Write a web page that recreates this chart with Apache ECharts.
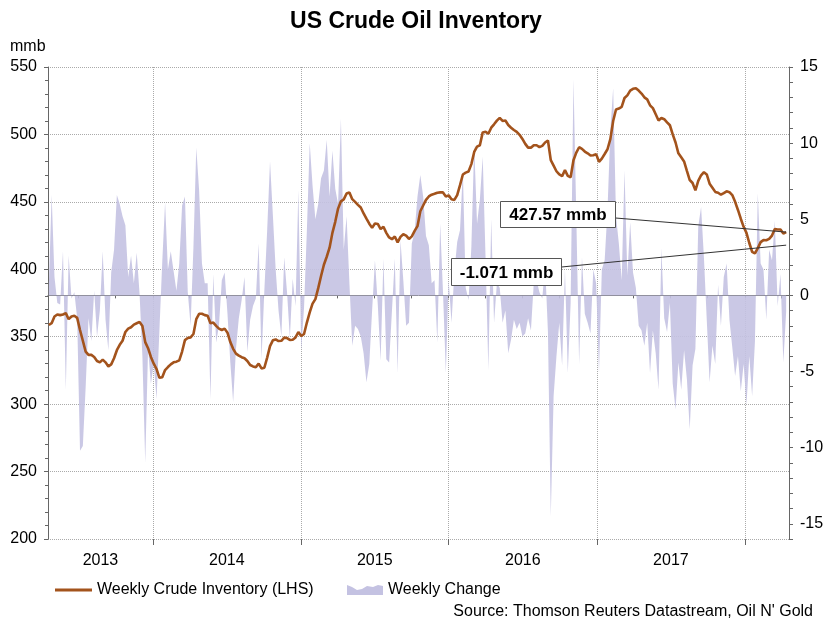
<!DOCTYPE html>
<html>
<head>
<meta charset="utf-8">
<title>US Crude Oil Inventory</title>
<script src="https://cdn.jsdelivr.net/npm/echarts@6/dist/echarts.min.js"></script>
<style>
html,body{margin:0;padding:0;background:#fff;}
#chart{width:832px;height:624px;}
</style>
</head>
<body>
<div id="chart"></div>
<script>
// weekly series, first week ending 2013-04-19, last 2018-04-13
var firstWeek = Date.UTC(2013, 3, 19);
var DAY = 864e5;

// crude inventory, mmb (LHS)
var inventory = [
  358.7, 360, 365, 366.5, 366, 366.5, 367.5, 363, 365, 365.5,
  364, 355, 347, 339, 336.5, 336.5, 335, 332, 331, 333,
  331, 328, 329.5, 334, 340, 344, 347, 353.5, 356, 357,
  359, 360, 361, 358, 346, 341.5, 335, 330, 326, 319.5,
  320, 325.3, 327.5, 329.5, 331, 331.5, 332.5, 339, 347.5, 349,
  349.5, 352, 363, 367, 367, 366, 365.5, 360, 360.5, 358,
  356, 355, 356, 353, 346, 341, 337.5,
  336, 334.8, 334, 332, 329, 328, 327.4, 330, 326.5, 327,
  334.5, 343, 347.3, 348, 346.8, 347, 349.3, 349, 347.6, 347.8,
  349.5, 353.5, 350.5, 352, 360.5, 368, 374.5, 377.9, 386, 395,
  403.4, 409.3, 416, 427, 435.2, 445, 450.4, 451.8, 456.2, 457,
  452, 450, 447.8, 445.8, 441.4, 437.5, 433.8, 430.7, 434, 433.6,
  429.8, 431.5, 427, 423.6, 422.3, 424.3, 420, 424, 426, 425,
  422.5, 424.4, 428.5, 432, 443, 447.3, 451.5, 454,
  455.3, 456, 456.8, 457, 457, 454, 454.8, 452, 451.4, 455,
  462.4, 470.3, 471.7, 472.5, 478, 487, 491, 492, 501.5, 502,
  500.5, 505, 507.5, 510.2, 512.3, 510, 510.3, 507, 505, 503.3,
  501.9, 499.7, 496.7, 493, 490.2, 490.2, 492, 492, 490.6, 491.5,
  494, 495.5, 480.9, 476.8, 472.7, 470.3, 469.1, 473.5, 469.3, 468.2,
  480.9, 486.5, 490.5, 489.3, 487.3, 486, 484.4, 484.6, 485.4, 479.7,
  482.1, 485.5, 489, 496.5, 510, 518.5, 519.2,
  520.4, 527, 529, 532.5, 533.8, 534.3, 532.5, 530.3, 527.5, 526,
  521.6, 519.5, 515, 510.3, 512.2, 511.3, 509, 506.8, 500, 494,
  486, 483, 480, 473, 466.2, 464, 458.5, 465.5, 469.7, 472,
  470.3, 463.5, 460.5, 457.4, 456.8, 455.3, 456.5, 457.8, 457.2, 455,
  450, 444, 437.5, 431.5, 427, 419.5, 413, 411.8, 415.7, 420.1,
  421.6, 421.5, 422.5, 425, 429.8, 429.5, 429.5, 426.5, 427.57
];

// weekly change, mmb (RHS)
var weeklyChange = [
  0.6, 6.6, 1.2, -0.5, -0.6, 2.9, -6.2, 2.6, -0.2, 0.2,
  -1.5, -10.2, -9.9, -6.0, -1.5, -3.0, 0.3, -2.7, -1.0, 2.9,
  -1.6, -3.6, 1.5, 3.0, 6.6, 6.0, 5.2, 4.6, 1.2, 2.6,
  0.8, 2.8, 0.1, -4.0, -11.0, -3.5, -5.8, -4.5, -6.8, -2.3,
  2.2, 6.1, 1.7, 2.9, 1.6, 0.3, 2.1, 5.9, 6.5, 0.2,
  -2.0, 3.2, 9.7, 6.9, 2.1, 0.8, 0.8, -6.8, 1.4, -3.1,
  -2.0, 1.0, 1.5, -1.2, -4.4, -7.0, -3.5,
  -1.5, -0.3, 1.2, -3.7, -1.6, -0.7, -0.2, 3.4, -4.2, 0.3,
  4.3, 8.8, 5.3, 1.7, -1.0, -2.7, 2.5, 0.2, -2.8, 1.1,
  -0.7, 6.9, -3.6, -0.8, 4.3, 10.0, 7.2, 5.0, 6.0, 7.7,
  8.2, 10.2, 6.5, 9.5, 7.0, 6.0, 11.6, 3.0, 5.2, 0.8,
  -3.3, -2.0, -2.2, -2.7, -3.8, -5.7, -4.5, -1.0, 2.3, -0.6,
  -4.3, 2.4, -4.2, -4.4, -1.0, 2.4, -5.1, 3.6, 1.0, -2.0,
  -1.8, 3.4, 4.2, 6.5, 7.9, 6.5, 3.9, 3.3,
  0.8, 1.0, -3.1, 4.7, 0.2, -5.1, 1.0, -1.8, 1.5, 3.5,
  4.3, 8.2, 0.5, -0.3, 3.2, 9.9, 4.7, 6.3, 9.1, 2.5,
  -4.9, 5.0, -1.8, 0.8, 0.5, -1.8, -1.0, -3.8, -2.9, -1.6,
  -2.2, -1.8, -2.7, -2.5, -1.5, -2.3, 0.8, 1.0, 0.2, -0.2,
  2.0, -2.4, -14.5, -6.6, -4.0, -1.8, -4.6, 1.7, -5.1, -0.5,
  14.2, 5.2, -4.5, 2.5, -1.2, -1.8, -2.5, 1.7, 0.8, -5.1,
  1.7, 2.3, 5.6, 10.8, 13.6, 5.2, 3.4,
  1.0, 8.2, 1.3, 4.8, 1.5, 0.5, -2.0, -2.3, -3.3, -1.8,
  -5.1, -2.3, -3.8, -6.2, 3.1, -1.5, -2.4, -0.5, -5.8, -7.5,
  -4.4, -6.2, -3.6, -5.5, -8.8, -4.6, -3.5, 4.5, 5.8, 2.5,
  -1.6, -5.7, -3.3, -4.5, 0.7, -2.0, 1.2, 2.1, -1.6, -3.4,
  -5.3, -4.0, -6.3, -4.5, -7.2, -4.0, -6.6, -3.0, 6.7, 2.1,
  1.7, -1.6, 3.0, 2.3, 4.9, -0.7, 1.4, -4.4, -1.071
];

var yearLabels = [2013, 2014, 2015, 2016, 2017];
var leftTicks = [200, 550, 50];     // min, max, step
var rightTicks = [-16, 15, 5];      // min, max, label step
var changeLeaderTarget = 3.3;       // where the -1.071 pointer lands on the RHS

var FONT = 'Arial, "Liberation Sans", sans-serif';
var INV_COLOR = '#a3531c';
var CHG_COLOR = '#c4c2e2';

function wk(i){ return firstWeek + i * 7 * DAY; }

var axisStart = Date.UTC(2013, 3, 17);
var axisEnd = Date.UTC(2018, 3, 20);

var quarterTicks = [];
for (var y = 2013; y <= 2018; y++) {
  for (var q = 0; q < 4; q++) {
    var t = Date.UTC(y, q * 3, 1);
    if (t > axisStart && t < axisEnd) quarterTicks.push(t);
  }
}
var yearTicks = [];
for (var y2 = 2014; y2 <= 2018; y2++) yearTicks.push(Date.UTC(y2, 0, 1));

var labelPos = yearLabels.map(function (yr) {
  var a = Math.max(Date.UTC(yr, 0, 1), axisStart);
  var b = Math.min(Date.UTC(yr + 1, 0, 1), axisEnd);
  return (a + b) / 2;
});

var invData = inventory.map(function (v, i) { return [wk(i), v]; });
var chgData = weeklyChange.map(function (v, i) { return [wk(i), v]; });

var myChart = echarts.init(document.getElementById('chart'));

var option = {
  animation: false,
  backgroundColor: '#fff',
  textStyle: { fontFamily: FONT },
  title: {
    text: 'US Crude Oil Inventory',
    left: 'center',
    top: 5,
    textStyle: { fontSize: 23, fontWeight: 'bold', color: '#000', fontFamily: FONT }
  },
  grid: { left: 48, right: 43, top: 67, bottom: 85 },
  legend: [
    {
      data: [{ name: 'Weekly Crude Inventory (LHS)', icon: 'rect' }],
      left: 55, top: 582, padding: 0,
      itemWidth: 37, itemHeight: 3,
      textStyle: { fontSize: 16, color: '#000', fontFamily: FONT },
      selectedMode: false
    },
    {
      data: [{ name: 'Weekly Change', icon: 'path://M0,12 L0,2 L5,4 L10,7 L15,6 L20,3 L26,4 L31,2 L36,3 L36,12 Z' }],
      left: 347, top: 582, padding: 0,
      itemWidth: 36, itemHeight: 12,
      textStyle: { fontSize: 16, color: '#000', fontFamily: FONT },
      selectedMode: false
    }
  ],
  xAxis: [
    {
      type: 'value', min: axisStart, max: axisEnd, position: 'bottom',
      axisLine: { lineStyle: { color: '#666', width: 1 } },
      axisTick: { customValues: quarterTicks, length: 3, lineStyle: { color: '#666' } },
      axisLabel: {
        customValues: labelPos,
        formatter: function (v) { return String(new Date(v).getUTCFullYear()); },
        fontSize: 16, color: '#000', margin: 14, fontFamily: FONT
      },
      splitLine: { show: false }
    },
    {
      type: 'value', min: axisStart, max: axisEnd, position: 'bottom',
      axisLine: { show: false },
      axisTick: { customValues: yearTicks, length: 6, lineStyle: { color: '#666' } },
      axisLabel: { show: false },
      splitLine: { show: true, lineStyle: { type: 'dotted', color: '#aaa' } }
    }
  ],
  yAxis: [
    {
      type: 'value', position: 'left',
      min: leftTicks[0], max: leftTicks[1], interval: leftTicks[2],
      axisLine: { show: true, lineStyle: { color: '#666' } },
      axisTick: { show: true, length: 4, lineStyle: { color: '#666' } },
      minorTick: { show: true, splitNumber: 5, length: 3, lineStyle: { color: '#666' } },
      axisLabel: { fontSize: 16, color: '#000', margin: 11, fontFamily: FONT },
      splitLine: { show: true, lineStyle: { type: 'dotted', color: '#aaa' } }
    },
    {
      type: 'value', position: 'right',
      min: rightTicks[0], max: rightTicks[1], interval: 1,
      axisLine: { show: true, lineStyle: { color: '#666' } },
      axisTick: { show: true, length: 4, lineStyle: { color: '#666' } },
      axisLabel: {
        formatter: function (v) { return v % rightTicks[2] === 0 ? String(v) : ''; },
        fontSize: 16, color: '#000', margin: 11, fontFamily: FONT
      },
      splitLine: { show: false }
    }
  ],
  series: [
    {
      name: 'Weekly Change',
      type: 'line',
      xAxisIndex: 0, yAxisIndex: 1,
      data: chgData,
      symbol: 'none',
      lineStyle: { width: 0 },
      itemStyle: { color: CHG_COLOR },
      areaStyle: { color: CHG_COLOR, opacity: 0.9 },
      z: 1
    },
    {
      name: 'Weekly Crude Inventory (LHS)',
      type: 'line',
      xAxisIndex: 0, yAxisIndex: 0,
      data: invData,
      symbol: 'none',
      lineStyle: { width: 2.6, color: INV_COLOR },
      itemStyle: { color: INV_COLOR },
      z: 3
    }
  ]
};
myChart.setOption(option, true);

// call-out boxes, pointers land on the data through the chart's own scales
var last = inventory.length - 1;
var pInv = myChart.convertToPixel({ seriesIndex: 1 }, [wk(last), inventory[last]]);
var pChg = myChart.convertToPixel({ seriesIndex: 0 }, [wk(last), changeLeaderTarget]);

function callout(x, y, w, h, text, ax, ay, target) {
  return [
    { type: 'line', z: 20, shape: { x1: ax, y1: ay, x2: target[0], y2: target[1] },
      style: { stroke: '#333', lineWidth: 1 } },
    { type: 'rect', z: 21, shape: { x: x, y: y, width: w, height: h },
      style: { fill: '#fff', stroke: '#555', lineWidth: 1 } },
    { type: 'text', z: 22, x: x + w / 2, y: y + h / 2 + 1,
      style: { text: text, font: 'bold 17px ' + FONT, fill: '#000', align: 'center', verticalAlign: 'middle' } }
  ];
}

var g = []
  .concat(callout(500.5, 201.5, 115, 26, inventory[last].toFixed(2) + ' mmb', 615.5, 218, pInv))
  .concat(callout(451.5, 258.5, 110, 27, weeklyChange[last].toFixed(3) + ' mmb', 561.5, 267, pChg));

g.push({ type: 'text', left: 10, top: 39,
  style: { text: 'mmb', font: '16px ' + FONT, fill: '#000' } });
g.push({ type: 'text', right: 19, top: 604,
  style: { text: "Source: Thomson Reuters Datastream, Oil N' Gold", font: '16px ' + FONT, fill: '#000' } });

myChart.setOption({ graphic: g });
</script>
</body>
</html>
